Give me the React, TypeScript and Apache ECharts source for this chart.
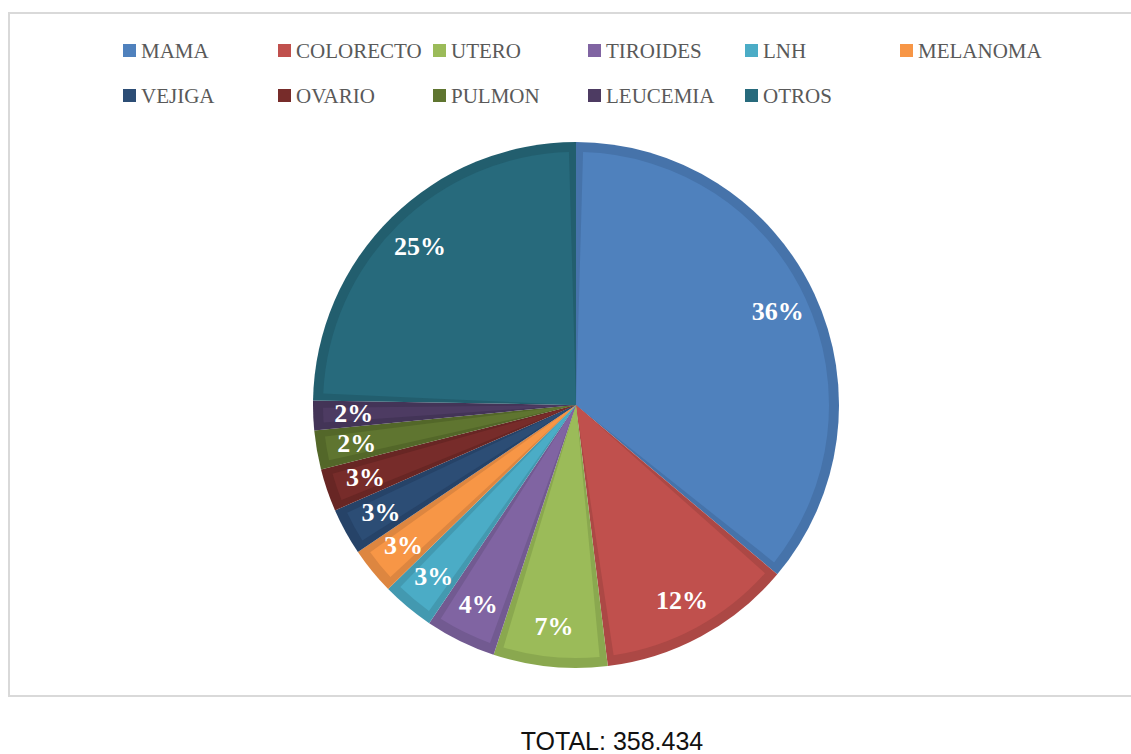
import React, { useEffect, useRef } from "react";
import * as echarts from "echarts";

const categories = ["MAMA", "COLORECTO", "UTERO", "TIROIDES", "LNH", "MELANOMA", "VEJIGA", "OVARIO", "PULMON", "LEUCEMIA", "OTROS"];
const values = [129500, 42800, 25100, 15600, 11600, 10400, 10300, 9400, 8600, 6500, 88634];
const fillColors = ["#4F81BD", "#C0504D", "#9BBB59", "#8064A2", "#4BACC6", "#F79646", "#2C4D75", "#772C2A", "#5F7530", "#4D3B62", "#276A7C"];
const edgeColors = ["#4673AA", "#AC4845", "#8AA84F", "#725A91", "#4399B0", "#DD8640", "#264368", "#682624", "#536729", "#433457", "#225E6E"];
const legendRow1 = ["MAMA", "COLORECTO", "UTERO", "TIROIDES", "LNH", "MELANOMA"];
const legendRow2 = ["VEJIGA", "OVARIO", "PULMON", "LEUCEMIA", "OTROS"];
const totalLabel = "TOTAL: 358.434";

export default function App() {
  const ref = useRef<HTMLDivElement>(null);
  useEffect(() => {
    if (!ref.current) return;
    const chart = echarts.init(ref.current, null, { renderer: "svg" });
    const center = [576, 405];
    const colX = [118, 273, 428, 583, 740, 895];
    const rowTop = [35, 80];
    const makeLegend = (name: string, col: number, row: number) => ({
      orient: "horizontal",
      left: colX[col],
      top: rowTop[row],
      icon: "rect",
      itemWidth: 13,
      itemHeight: 13,
      selectedMode: false,
      data: [name],
      textStyle: {
        fontFamily: "Liberation Serif",
        fontSize: 21,
        color: "#595959",
      },
    });
    const legends = [
      ...legendRow1.map((n, i) => makeLegend(n, i, 0)),
      ...legendRow2.map((n, i) => makeLegend(n, i, 1)),
    ];
    chart.setOption({
      animation: false,
      backgroundColor: "#ffffff",
      legend: legends,
      graphic: [
        {
          type: "rect",
          shape: { x: 9, y: 13, width: 1140, height: 683 },
          style: { fill: "none", stroke: "#d9d9d9", lineWidth: 2 },
          z: 0,
        },
        {
          type: "text",
          x: 612,
          y: 741,
          style: {
            text: totalLabel,
            fontFamily: "Liberation Sans",
            fontSize: 25,
            fill: "#111111",
            textAlign: "center",
            textVerticalAlign: "middle",
          },
        },
      ],
      series: [
        {
          type: "pie",
          name: "light",
          center,
          radius: [0, 253],
          startAngle: 90,
          padAngle: 3.2,
          z: 3,
          silent: true,
          label: { show: false },
          labelLine: { show: false },
          data: categories.map((c, i) => ({ name: c, value: values[i], itemStyle: { color: fillColors[i] } })),
        },
        {
          type: "pie",
          name: "edge",
          center,
          radius: [0, 263],
          startAngle: 90,
          z: 1,
          silent: true,
          label: { show: false },
          labelLine: { show: false },
          data: categories.map((c, i) => ({ name: c, value: values[i], itemStyle: { color: edgeColors[i] } })),
        },
        {
          type: "pie",
          name: "labels",
          center,
          radius: [176, 263],
          startAngle: 90,
          z: 4,
          silent: true,
          itemStyle: { color: "rgba(0,0,0,0)" },
          label: {
            show: true,
            position: "inside",
            formatter: (p: any) => Math.round(p.percent) + "%",
            fontFamily: "Liberation Serif",
            fontWeight: "bold",
            fontSize: 26,
            color: "#ffffff",
          },
          labelLine: { show: false },
          data: categories.map((c, i) => ({ name: c, value: values[i] })),
        },
      ],
    });
    return () => chart.dispose();
  }, []);
  return <div ref={ref} style={{ position: "absolute", left: 0, top: 0, width: 1131, height: 754 }} />;
}
